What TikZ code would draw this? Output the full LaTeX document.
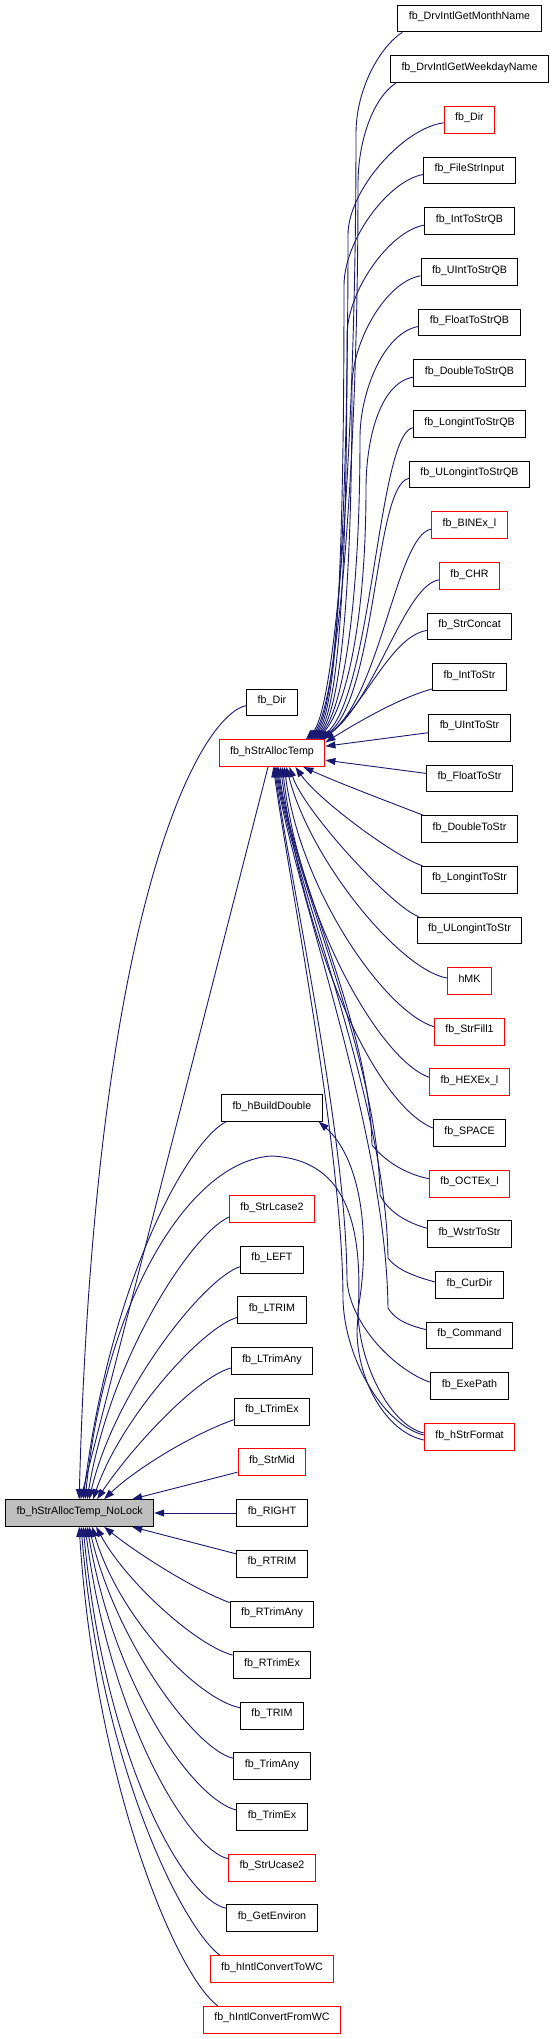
\documentclass[tikz,border=0pt]{standalone}
\usepackage{fontspec}
\setmainfont{Liberation Sans}
\usetikzlibrary{arrows.meta,calc}
\definecolor{edgec}{HTML}{191970}
\definecolor{nodegray}{HTML}{BFBFBF}
\definecolor{nodered}{HTML}{FF0000}
\tikzset{
 box/.style={draw=black, line width=1pt, rectangle, minimum height=26.7pt, inner xsep=11pt, text height=7.7pt, text depth=5.3pt, font=\fontsize{10.7pt}{12pt}\selectfont, fill=white},
 redbox/.style={box, draw=nodered},
 graybox/.style={box, fill=nodegray},
 conn/.style={draw=edgec, line width=0.9pt, -{Triangle[length=10pt,width=7pt]}},
}
\begin{document}
\begin{tikzpicture}[x=1pt,y=-1pt]
\fill[white] (0,0) rectangle (555,2039);
\useasboundingbox (0,0) rectangle (555,2039);
% right column
\node[box]    (r1)  at (469.5,18.5)   {fb\_DrvIntlGetMonthName};
\node[box]    (r2)  at (469.5,69.2)   {fb\_DrvIntlGetWeekdayName};
\node[redbox] (r3)  at (469.5,119.8)  {fb\_Dir};
\node[box]    (r4)  at (469.5,170.5)  {fb\_FileStrInput};
\node[box]    (r5)  at (469.5,221.1)  {fb\_IntToStrQB};
\node[box]    (r6)  at (469.5,271.8)  {fb\_UIntToStrQB};
\node[box]    (r7)  at (469.5,322.5)  {fb\_FloatToStrQB};
\node[box]    (r8)  at (469.5,373.1)  {fb\_DoubleToStrQB};
\node[box]    (r9)  at (469.5,423.8)  {fb\_LongintToStrQB};
\node[box]    (r10) at (469.5,474.4)  {fb\_ULongintToStrQB};
\node[redbox] (r11) at (469.5,525.1)  {fb\_BINEx\_l};
\node[redbox] (r12) at (469.5,575.8)  {fb\_CHR};
\node[box]    (r13) at (469.5,626.4)  {fb\_StrConcat};
\node[box]    (r14) at (469.5,677.1)  {fb\_IntToStr};
\node[box]    (r15) at (469.5,727.7)  {fb\_UIntToStr};
\node[box]    (r16) at (469.5,778.4)  {fb\_FloatToStr};
\node[box]    (r17) at (469.5,829.1)  {fb\_DoubleToStr};
\node[box]    (r18) at (469.5,879.7)  {fb\_LongintToStr};
\node[box]    (r19) at (469.5,930.4)  {fb\_ULongintToStr};
\node[redbox] (r20) at (469.5,981)    {hMK};
\node[redbox] (r21) at (469.5,1031.7) {fb\_StrFill1};
\node[redbox] (r22) at (469.5,1082.3) {fb\_HEXEx\_l};
\node[box]    (r23) at (469.5,1133)   {fb\_SPACE};
\node[redbox] (r24) at (469.5,1183.7) {fb\_OCTEx\_l};
\node[box]    (r25) at (469.5,1234.3) {fb\_WstrToStr};
\node[box]    (r26) at (469.5,1285)   {fb\_CurDir};
\node[box]    (r27) at (469.5,1335.6) {fb\_Command};
\node[box]    (r28) at (469.5,1386.3) {fb\_ExePath};
\node[redbox] (hsf) at (469.5,1437)   {fb\_hStrFormat};
% middle column
\node[box]    (dirm)   at (272,702.5)  {fb\_Dir};
\node[redbox] (hsat)   at (272,753.2)  {fb\_hStrAllocTemp};
\node[box]    (hbd)    at (272,1107.8) {fb\_hBuildDouble};
\node[redbox] (lc2)    at (272,1209)   {fb\_StrLcase2};
\node[box]    (nleft)  at (272,1259.7) {fb\_LEFT};
\node[box]    (ltrim)  at (272,1310.3) {fb\_LTRIM};
\node[box]    (ltany)  at (272,1361)   {fb\_LTrimAny};
\node[box]    (ltex)   at (272,1411.7) {fb\_LTrimEx};
\node[redbox] (smid)   at (272,1462.3) {fb\_StrMid};
\node[box]    (nright) at (272,1513)   {fb\_RIGHT};
\node[box]    (rtrim)  at (272,1563.7) {fb\_RTRIM};
\node[box]    (rtany)  at (272,1614.4) {fb\_RTrimAny};
\node[box]    (rtex)   at (272,1665)   {fb\_RTrimEx};
\node[box]    (trim)   at (272,1715.7) {fb\_TRIM};
\node[box]    (tany)   at (272,1766.3) {fb\_TrimAny};
\node[box]    (tex)    at (272,1817)   {fb\_TrimEx};
\node[redbox] (uc2)    at (272,1867.7) {fb\_StrUcase2};
\node[box]    (genv)   at (272,1918.3) {fb\_GetEnviron};
\node[redbox] (towc)   at (272,1969)   {fb\_hIntlConvertToWC};
\node[redbox] (fromwc) at (272,2019.7) {fb\_hIntlConvertFromWC};
% callee
\node[graybox] (nl) at (79.7,1513) {fb\_hStrAllocTemp\_NoLock};

% ---- group A: into hStrAllocTemp top
\draw[conn] ($(r1.south west)+(5,0)$) .. controls +(-22,14) and +(0,-45) .. (356,133.5) .. controls +(0,333.6) and +(28,-28) .. ($(hsat.north east)+(-19.5,0)$);
\draw[conn] ($(r2.south west)+(6,0)$) .. controls +(-22,14) and +(0,-45) .. (358,184.2) .. controls +(0,305.7) and +(28,-28) .. ($(hsat.north east)+(-18,0)$);
\draw[conn] ($(r3.west)+(0,3)$) .. controls +(-40,5) and +(0,-45) .. (348,234.8) .. controls +(0,277.9) and +(28,-28) .. ($(hsat.north east)+(-16.5,0)$);
\draw[conn] ($(r4.west)+(0,4)$) .. controls +(-35,6) and +(0,-45) .. (344,285.5) .. controls +(0,250) and +(28,-28) .. ($(hsat.north east)+(-15,0)$);
\draw[conn] ($(r5.west)+(0,4)$) .. controls +(-35,6) and +(0,-45) .. (347,336.1) .. controls +(0,222.1) and +(28,-28) .. ($(hsat.north east)+(-13.5,0)$);
\draw[conn] ($(r6.west)+(0,4)$) .. controls +(-35,6) and +(0,-45) .. (352,386.8) .. controls +(0,194.3) and +(28,-28) .. ($(hsat.north east)+(-12,0)$);
\draw[conn] ($(r7.west)+(0,4)$) .. controls +(-35,6) and +(0,-45) .. (360,437.5) .. controls +(0,166.4) and +(28,-28) .. ($(hsat.north east)+(-10.5,0)$);
\draw[conn] ($(r8.west)+(0,4)$) .. controls +(-35,6) and +(0,-45) .. (366,488.1) .. controls +(0,138.5) and +(28,-28) .. ($(hsat.north east)+(-9,0)$);
\draw[conn] ($(r9.west)+(0,4)$) .. controls +(-35,6) and +(54,-40) .. ($(hsat.north east)+(-7.5,0)$);
\draw[conn] ($(r10.west)+(0,4)$) .. controls +(-35,6) and +(57.5,-40) .. ($(hsat.north east)+(-6,0)$);
\draw[conn] ($(r11.west)+(0,4)$) .. controls +(-35,6) and +(59,-40) .. ($(hsat.north east)+(-4.5,0)$);
\draw[conn] ($(r12.west)+(0,4)$) .. controls +(-35,6) and +(53.5,-40) .. ($(hsat.north east)+(-3,0)$);
\draw[conn] ($(r13.west)+(0,4)$) .. controls +(-35,6) and +(44,-40) .. ($(hsat.north east)+(-1.5,0)$);
% ---- group B
\draw[conn] ($(r14.south west)+(0,-2)$) .. controls +(-30,8) and +(35,-22) .. ($(hsat.north east)+(0,3)$);
\draw[conn] ($(r15.west)+(0,5)$) -- ($(hsat.east)+(0,-7)$);
\draw[conn] ($(r16.west)+(0,-5)$) -- ($(hsat.east)+(0,7)$);
\draw[conn] ($(r17.north west)+(2,0)$) .. controls +(-20,-8) and +(40,18) .. ($(hsat.south east)+(-22,0)$);
\draw[conn] ($(r18.north west)+(2,0)$) .. controls +(-25,-8) and +(25,35) .. ($(hsat.south east)+(-30,0)$);
\draw[conn] ($(r19.north west)+(2,0)$) .. controls +(-25,-8) and +(15,45) .. ($(hsat.south east)+(-36,0)$);
% ---- group C
\draw[conn] ($(r20.west)+(0,-3)$) .. controls +(-47,-8) and +(23.5,93.3) .. ($(hsat.south east)+(-39,0)$);
\draw[conn] ($(r21.west)+(0,-5)$) .. controls +(-49,-15) and +(15.5,123.3) .. ($(hsat.south east)+(-41,0)$);
\draw[conn] ($(r22.west)+(0,-5)$) .. controls +(-49,-17) and +(17.5,153.3) .. ($(hsat.south east)+(-43,0)$);
\draw[conn] ($(r23.west)+(0,-5)$) .. controls +(-57,-23) and +(24.5,183.3) .. ($(hsat.south east)+(-45,0)$);
\draw[conn] ($(r24.west)+(0,-5)$) .. controls +(-30,-6) and +(8,10) .. (372,1145) .. controls +(-2,-120) and +(15,110) .. ($(hsat.south east)+(-47,0)$);
\draw[conn] ($(r25.west)+(0,-6)$) .. controls +(-28,-8) and +(6,12) .. (380,1195) .. controls +(-2,-140) and +(15,110) .. ($(hsat.south east)+(-48,0)$);
\draw[conn] ($(r26.west)+(0,-3)$) .. controls +(-30,-8) and +(6,8) .. (388,1258) .. controls +(-2,-160) and +(15,110) .. ($(hsat.south east)+(-49,0)$);
\draw[conn] ($(r27.west)+(0,-6)$) .. controls +(-25,-6) and +(5,8) .. (388,1308) .. controls +(-2,-180) and +(15,110) .. ($(hsat.south east)+(-50,0)$);
\draw[conn] ($(r28.west)+(0,-4)$) .. controls +(-35,-12) and +(3,45) .. (347,1280) .. controls +(-1,-150) and +(15,110) .. ($(hsat.south east)+(-51,0)$);
\draw[conn] ($(hsf.west)+(0,-2)$) .. controls +(-40,-10) and +(2,60) .. (343,1300) .. controls +(0,-150) and +(15,110) .. ($(hsat.south east)+(-52,0)$);
% ---- hStrFormat to hBuildDouble and NoLock
\draw[conn] ($(hsf.west)+(0,-4)$) .. controls +(-35,-8) and +(0,50) .. (358,1310) .. controls +(14,-80) and +(40,35) .. ($(hbd.south east)+(-4,0)$);
\draw[conn] ($(hsf.west)+(0,3)$) .. controls +(-38,-8) and +(0,50) .. (357,1330) .. controls +(8,-100) and +(78,4) .. (272,1156) .. controls +(-82,4) and +(20,-200) .. ($(nl.north west)+(80,0)$);
% ---- into NoLock from above
\draw[conn] ($(dirm.west)+(0,3)$) .. controls +(-46,10) and +(16,-599.7) .. ($(nl.north west)+(74,0)$);
\draw[conn] ($(hsat.south)+(-4,0)$) -- ($(nl.north west)+(75.5,0)$);
\draw[conn] ($(hbd.south west)+(5,0)$) .. controls +(-37,18) and +(27,-219.7) .. ($(nl.north west)+(78,0)$);
\draw[conn] ($(lc2.west)+(0,8)$) .. controls +(-38.9,18) and +(23,-139.7) .. ($(nl.north west)+(82,0)$);
\draw[conn] ($(nleft.west)+(0,7)$) .. controls +(-35.5,11.3) and +(26,-109.7) .. ($(nl.north west)+(84,0)$);
\draw[conn] ($(ltrim.west)+(0,7)$) .. controls +(-36.5,10.7) and +(27,-79.7) .. ($(nl.north west)+(88,0)$);
\draw[conn] ($(ltany.west)+(0,7)$) .. controls +(-35.5,10) and +(33,-49.7) .. ($(nl.north west)+(92,0)$);
\draw[conn] ($(ltex.west)+(0,8)$) .. controls +(-43,15.3) and +(31,-29.7) .. ($(nl.north west)+(99,0)$);
\draw[conn] ($(smid.south west)+(0,-4)$) -- ($(nl.north west)+(127,0)$);
\draw[conn] (nright.west) -- (nl.east);
% ---- into NoLock from below
\draw[conn] ($(rtrim.north west)+(0,4)$) -- ($(nl.south west)+(127,0)$);
\draw[conn] ($(rtany.north west)+(0,2)$) .. controls +(-35,-13) and +(36,28.7) .. ($(nl.south west)+(99,0)$);
\draw[conn] ($(rtex.north west)+(0,4)$) .. controls +(-38,-10.7) and +(29,53.7) .. ($(nl.south west)+(91,0)$);
\draw[conn] ($(trim.west)+(0,-8)$) .. controls +(-40.5,-7.7) and +(28,93.7) .. ($(nl.south west)+(87,0)$);
\draw[conn] ($(tany.west)+(0,-8)$) .. controls +(-38,-8.3) and +(26,113.7) .. ($(nl.south west)+(84,0)$);
\draw[conn] ($(tex.west)+(0,-7)$) .. controls +(-41.5,-10) and +(28,163.7) .. ($(nl.south west)+(82,0)$);
\draw[conn] ($(uc2.west)+(0,-9)$) .. controls +(-39,-8.7) and +(25,193.7) .. ($(nl.south west)+(80,0)$);
\draw[conn] ($(genv.west)+(0,-10)$) .. controls +(-41.7,-8.3) and +(22,233.7) .. ($(nl.south west)+(78,0)$);
\draw[conn] ($(towc.north west)+(10,0)$) .. controls +(-39.5,-30.7) and +(19,233.7) .. ($(nl.south west)+(76,0)$);
\draw[conn] ($(fromwc.north west)+(15,0)$) .. controls +(-42.6,-31.3) and +(16,253.7) .. ($(nl.south west)+(74,0)$);
\end{tikzpicture}
\end{document}
